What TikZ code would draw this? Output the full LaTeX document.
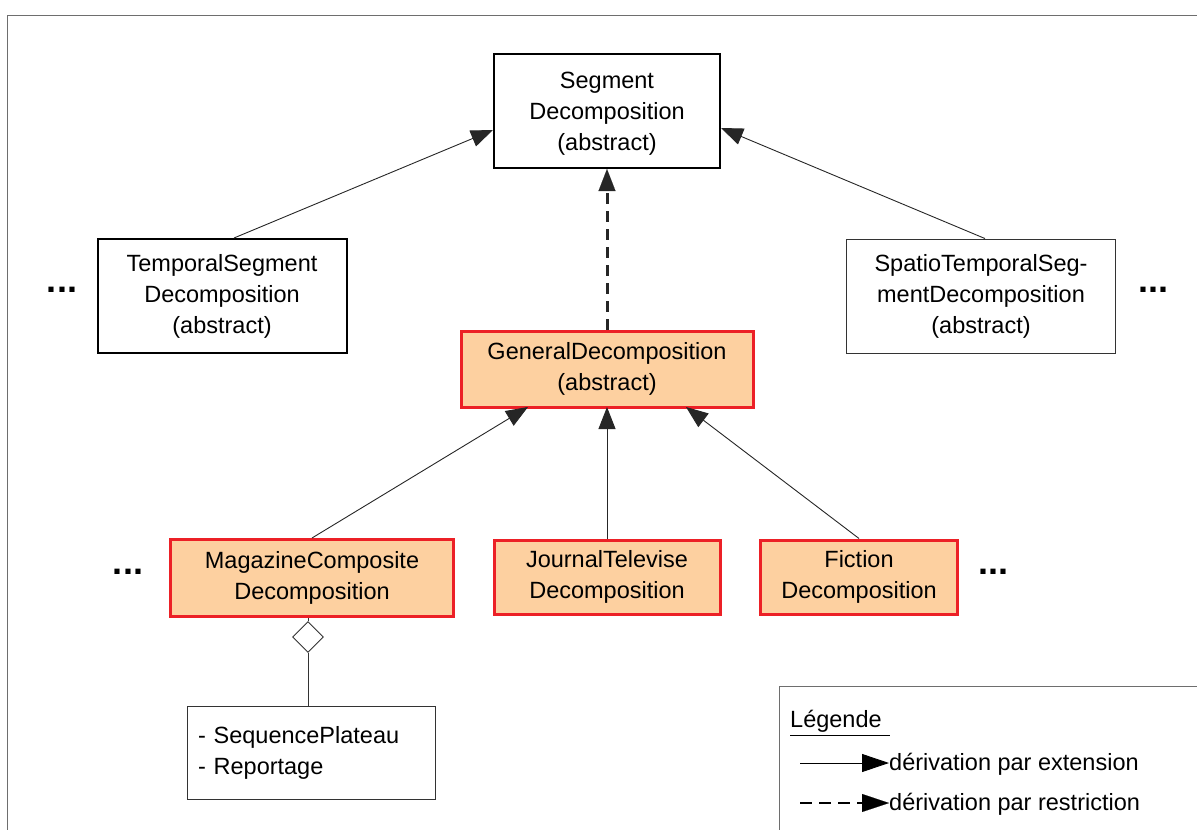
\documentclass[tikz,border=0pt]{standalone}
\usepackage{fontspec}
\setmainfont{Liberation Sans}
\usetikzlibrary{arrows.meta,shapes.geometric}

\definecolor{derivedFill}{RGB}{253,208,160}
\definecolor{derivedLine}{RGB}{236,32,38}
\definecolor{frameGray}{RGB}{110,110,110}

\begin{document}
\begin{tikzpicture}
[x=1pt,y=-1pt,
  every node/.style={font=\fontsize{23.5}{31}\selectfont,inner sep=0pt},
  boxDecorate/.style={shape=rectangle,draw,line width=2pt,align=center},
  thinDecorate/.style={shape=rectangle,draw=black!80,line width=0.9pt,align=center},
  derivedDecorate/.style={shape=rectangle,draw=derivedLine,fill=derivedFill,line width=3pt,align=center},
  extendDecorate/.style={draw=black!85,line width=0.9pt,-{Triangle[length=22pt,width=17pt]}},
  restrictDecorate/.style={draw=black!85,line width=3pt,dash pattern=on 11pt off 7pt,-{Triangle[length=22pt,width=17pt,line width=0.1pt]}},
  dotsDecorate/.style={font=\fontsize{36}{36}\selectfont\bfseries}]
\useasboundingbox (0,0) rectangle (1197,830);
%% frame
\draw[frameGray,line width=1pt] (7,830) -- (7,15) -- (1197,15);
%% nodes or boxes
\node (segment) at (607,111) [boxDecorate,minimum width=226,minimum height=114,text depth=-2pt]
  {Segment\\Decomposition\\(abstract)};
\node (temporal) at (222,296) [boxDecorate,minimum width=249,minimum height=114]
  {TemporalSegment\\Decomposition\\(abstract)};
\node (spatio) at (981,296) [thinDecorate,minimum width=269,minimum height=114]
  {SpatioTemporalSeg-\\mentDecomposition\\(abstract)};
\node (general) at (607,369) [derivedDecorate,minimum width=292,minimum height=76]
  {GeneralDecomposition\\(abstract)};
\node (magazine) at (312,578) [derivedDecorate,minimum width=283,minimum height=77]
  {MagazineComposite\\Decomposition};
\node (journal) at (607,577) [derivedDecorate,minimum width=226,minimum height=74]
  {JournalTelevise\\Decomposition};
\node (fiction) at (859,577) [derivedDecorate,minimum width=197,minimum height=74]
  {Fiction\\Decomposition};
\node (parts) at (311,753) [thinDecorate,minimum width=248,minimum height=93,align=left,
  text width=226]
  {- SequencePlateau\\- Reportage};
\node (aggr) at (308,637) [shape=diamond,draw=black!80,line width=0.9pt,
  minimum width=31,minimum height=31] {};
%% dots
\foreach \dotname/\x/\y in {dotsA/62/290, dotsB/1153/290, dotsC/128/572, dotsD/993/572}
{
  \node (\dotname) at (\x,\y) [dotsDecorate] {...};
}
%% edges or lines
\draw[extendDecorate] (temporal.north)+(12,0) -- (segment.south west |- 0,130);
\draw[extendDecorate] (spatio.north)+(4,0) -- (segment.south east |- 0,128);
\draw[restrictDecorate] (general) -- (segment);
\path
\foreach \startnode/\endx in {magazine/528, journal/607, fiction/686}
{
  (\startnode.north) edge[extendDecorate] (\endx,407)
};
\draw[draw=black!80,line width=0.9pt] (magazine.south -| aggr) -- (aggr.north);
\draw[draw=black!80,line width=0.9pt] (aggr.south) -- (parts.north -| aggr);
%% legend
\draw[frameGray,line width=1pt] (779,830) -- (779,686) -- (1197,686);
\node (legendTitle) at (790,721) [anchor=west] {Légende\,\,};
\draw[line width=0.9pt] (legendTitle.south west)+(0,3) -- ([yshift=-3]legendTitle.south east);
\node (extText) at (889,764) [anchor=west] {dérivation par extension};
\node (resText) at (889,804) [anchor=west] {dérivation par restriction};
\coordinate (extStart) at (800,763);
\coordinate (resStart) at (800,803);
\draw[draw=black,line width=0.9pt,-{Triangle[length=27pt,width=18pt]}] (extStart) -- (extText.west |- extStart);
\draw[restrictDecorate,draw=black,line width=2.6pt,dash pattern=on 12pt off 7pt,
  -{Triangle[length=27pt,width=18pt,line width=0.1pt]}] (resStart) -- (resText.west |- resStart);
\end{tikzpicture}
\end{document}
